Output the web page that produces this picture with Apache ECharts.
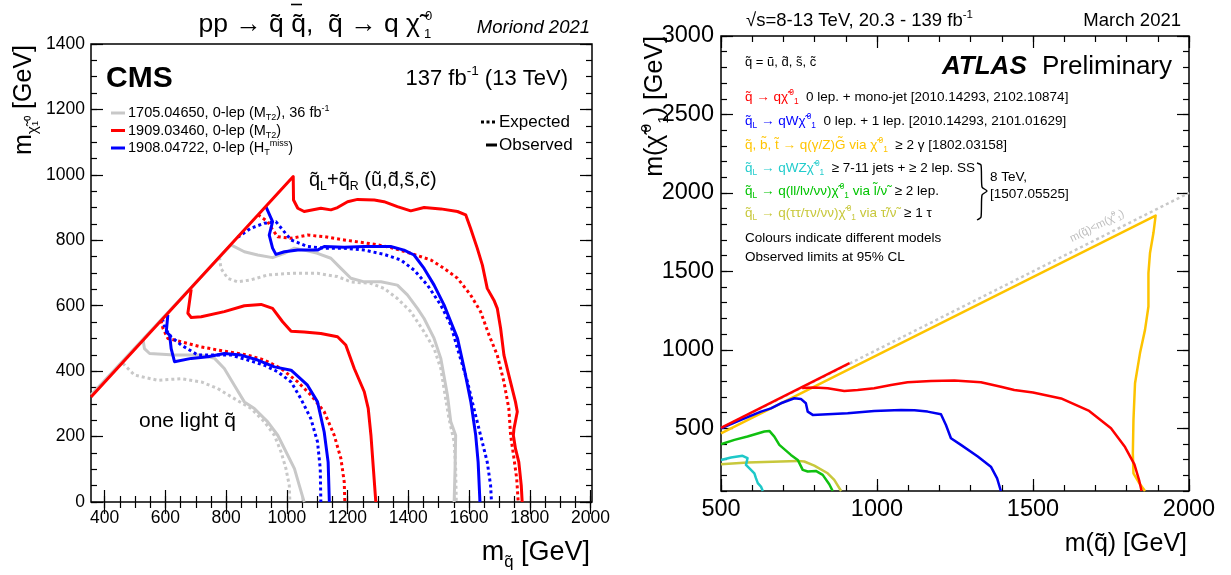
<!DOCTYPE html>
<html><head><meta charset="utf-8">
<script src="https://cdn.jsdelivr.net/npm/echarts@6.0.0/dist/echarts.min.js"></script>
<style>html,body{margin:0;padding:0;background:#fff}#c{width:1231px;height:575px}</style>
</head><body><div id="c"></div>
<script>
const FONT = '"Liberation Sans", Arial, Helvetica, sans-serif';

// ---------- tick labels ----------
const cmsXTicks = [400, 600, 800, 1000, 1200, 1400, 1600, 1800, 2000];
const cmsYTicks = [0, 200, 400, 600, 800, 1000, 1200, 1400];
const atlasXTicks = [500, 1000, 1500, 2000];
const atlasYTicks = [500, 1000, 1500, 2000, 2500, 3000];

// ---------- CMS curves [m_squark, m_LSP] ----------
const cmsRedObsOuter = [[355,321],[1021,995],[1022,923],[1036,898],[1057,888],[1112,898],[1145,893],[1167,900],[1200,918],[1233,925],[1288,923],[1320,918],[1364,903],[1408,890],[1452,900],[1507,896],[1562,888],[1589,878],[1605,837],[1627,776],[1644,724],[1660,653],[1682,617],[1693,592],[1704,531],[1715,449],[1731,388],[1753,306],[1759,276],[1748,224],[1746,204],[1753,163],[1764,122],[1772,51],[1775,0]];
const cmsRedObsInner = [[685,650],[674,577],[685,564],[718,566],[794,582],[860,600],[915,604],[953,592],[986,551],[1014,522],[1057,520],[1112,515],[1167,505],[1194,480],[1222,408],[1255,337],[1268,286],[1277,204],[1285,102],[1293,0]];
const cmsRedExpOuter = [[905,878],[937,857],[953,832],[970,811],[1014,806],[1068,816],[1123,811],[1189,801],[1288,788],[1342,778],[1408,760],[1474,740],[1518,714],[1562,684],[1605,633],[1638,582],[1666,510],[1693,449],[1715,367],[1731,286],[1737,204],[1748,133],[1757,72],[1762,0]];
const cmsRedExpInner = [[585,555],[592,531],[608,500],[652,490],[718,474],[794,461],[871,449],[926,434],[981,408],[1036,367],[1079,327],[1123,276],[1156,204],[1178,133],[1189,61],[1191,0]];
const cmsBlueObsOuter = [[931,903],[953,857],[942,816],[953,776],[964,757],[992,765],[1036,770],[1101,770],[1123,781],[1189,779],[1255,781],[1342,781],[1386,770],[1419,755],[1452,714],[1485,663],[1518,602],[1540,551],[1562,500],[1584,408],[1606,306],[1622,204],[1630,122],[1636,0]];
const cmsBlueObsInner = [[608,572],[603,520],[614,510],[619,469],[630,429],[685,439],[740,444],[794,454],[849,449],[904,434],[959,413],[1014,403],[1068,357],[1101,306],[1123,214],[1136,122],[1140,0]];
const cmsBlueExpOuter = [[838,809],[882,837],[926,852],[964,857],[986,832],[1014,801],[1068,781],[1123,776],[1189,776],[1255,770],[1320,757],[1375,740],[1419,709],[1463,663],[1507,602],[1540,541],[1562,469],[1595,367],[1616,286],[1638,204],[1660,122],[1671,51],[1674,0]];
const cmsBlueExpInner = [[590,560],[599,531],[619,505],[652,480],[707,449],[762,449],[816,449],[871,434],[926,418],[970,398],[1014,367],[1046,316],[1079,255],[1101,184],[1110,102],[1112,0]];
const cmsGrayObsOuter = [[355,327],[816,786],[860,765],[904,755],[953,747],[992,760],[1025,776],[1057,770],[1101,760],[1145,745],[1178,714],[1211,684],[1255,673],[1310,673],[1364,663],[1397,633],[1430,592],[1452,561],[1485,500],[1507,439],[1529,326],[1540,245],[1556,204],[1554,102],[1551,0]];
const cmsGrayObsInner = [[526,498],[531,469],[548,454],[630,449],[718,449],[762,439],[794,408],[827,357],[860,306],[893,286],[937,245],[970,204],[1003,143],[1025,102],[1041,51],[1057,0]];
const cmsGrayExpOuter = [[778,748],[783,714],[805,684],[838,673],[882,679],[937,694],[1014,699],[1101,699],[1167,689],[1211,673],[1277,668],[1320,653],[1364,622],[1408,582],[1452,520],[1485,469],[1507,408],[1523,316],[1534,255],[1551,184],[1556,102],[1558,0]];
const cmsGrayExpInner = [[460,424],[498,388],[575,372],[652,377],[718,367],[772,347],[827,316],[882,286],[926,245],[959,204],[981,153],[997,102],[1008,51],[1010,0]];

// ---------- ATLAS curves [m_squark, m_LSP] ----------
const atlasDiag = [[500,500],[2000,2000]];
const atlasYellow = [[500,468],[1893,1855],[1886,1744],[1875,1617],[1870,1489],[1870,1276],[1859,1127],[1843,979],[1827,787],[1822,553],[1820,340],[1822,213],[1841,149],[1859,100]];
const atlasRedDiag = [[500,503],[912,915]];
const atlasRed = [[760,757],[799,759],[842,755],[895,738],[938,744],[991,755],[1045,776],[1098,793],[1173,801],[1248,804],[1333,793],[1397,765],[1440,744],[1500,728],[1590,690],[1680,610],[1750,500],[1795,380],[1825,270],[1840,170],[1848,100]];
const atlasBlue = [[500,500],[564,553],[628,606],[660,627],[692,659],[735,691],[756,687],[772,659],[778,606],[794,585],[842,589],[906,596],[991,610],[1077,617],[1120,615],[1162,606],[1205,589],[1221,521],[1237,436],[1269,394],[1323,320],[1365,255],[1385,180],[1397,100]];
const atlasGreen = [[500,398],[543,426],[585,447],[639,479],[655,483],[671,447],[687,394],[724,330],[746,298],[762,235],[778,224],[804,228],[826,203],[847,143],[858,100]];
const atlasCyan = [[500,298],[532,313],[569,324],[585,309],[580,266],[596,235],[607,213],[612,182],[618,150],[628,128],[634,100]];
const atlasOlive = [[500,271],[585,281],[692,288],[746,292],[767,288],[799,262],[842,213],[863,171],[885,100]];

// ---------- helpers ----------
function steps(a, b, s) { const r = []; for (let v = a; v <= b; v += s) r.push(v); return r; }
const tickStyle = {color:'#000', width:1.2};
function axisSet(grid, dim, min, max, majorVals, minorVals, labelFont, labelMargin) {
  const pA = dim === 'x' ? 'bottom' : 'left', pB = dim === 'x' ? 'top' : 'right';
  const base = {type:'value', gridIndex:grid, min, max, axisLine:{show:false}, splitLine:{show:false}};
  const lab = {show:true, customValues:majorVals, fontSize:labelFont, fontFamily:FONT, color:'#000', margin:labelMargin, formatter:(v) => String(v)};
  return [
    Object.assign({}, base, {position:pA, axisTick:{show:true, inside:true, length:12, customValues:majorVals, lineStyle:tickStyle}, axisLabel:lab}),
    Object.assign({}, base, {position:pA, axisTick:{show:true, inside:true, length:6, customValues:minorVals, lineStyle:tickStyle}, axisLabel:{show:false}}),
    Object.assign({}, base, {position:pB, axisTick:{show:true, inside:true, length:12, customValues:majorVals, lineStyle:tickStyle}, axisLabel:{show:false}}),
    Object.assign({}, base, {position:pB, axisTick:{show:true, inside:true, length:6, customValues:minorVals, lineStyle:tickStyle}, axisLabel:{show:false}})
  ];
}
function S(data, color, width, dotted, g) {
  const i = g === 0 ? 0 : 4;
  return {type:'line', data, xAxisIndex:i, yAxisIndex:i, symbol:'none', showSymbol:false, silent:true,
    lineStyle:{color, width, type: dotted ? [3,3] : 'solid', cap:'butt', join:'round'}};
}
const COLS = {k:'#000000', r:'#ff0000', b:'#0000ff', y:'#ffc400', c:'#22cccc', g:'#00c400', o:'#c8c83c', gr:'#bdbdbd'};
function richDict(f) {
  const d = {};
  for (const k in COLS) {
    const c = COLS[k];
    d[k] = {fill:c, font:`${f}px ${FONT}`, lineHeight:f*1.3};
    d[k+'p'] = {fill:c, font:`${(f*0.62).toFixed(1)}px ${FONT}`, lineHeight:f*0.62, verticalAlign:'top'};
    d[k+'b'] = {fill:c, font:`${(f*0.62).toFixed(1)}px ${FONT}`, lineHeight:f*0.62, verticalAlign:'bottom'};
  }
  return d;
}
function T(x, y, text, f, o) {
  o = o || {};
  const al = o.align || 'left';
  return {type:'text', x, y, rotation:o.rot || 0, silent:true, z:100,
    style:{text, font:`${o.st||'normal'} ${o.w||'normal'} ${f}px ${FONT}`, fill:o.fill || '#000',
      textAlign:al, align:al, textVerticalAlign:'middle', verticalAlign:'middle', lineHeight:f*1.3, rich:richDict(f)}};
}
function L(x1, y1, x2, y2, color, w, dash) {
  return {type:'line', silent:true, z:100, shape:{x1,y1,x2,y2}, style:{stroke:color, lineWidth:w, lineDash:dash || null}};
}

const xAxes = axisSet(0, 'x', 355, 2005, cmsXTicks, steps(400, 2000, 50), 17.5, 7)
  .concat(axisSet(1, 'x', 500, 2000, atlasXTicks, steps(500, 2000, 100), 23.5, 7));
const yAxes = axisSet(0, 'y', 0, 1400, cmsYTicks, steps(0, 1400, 50), 17.5, 6)
  .concat(axisSet(1, 'y', 100, 3000, atlasYTicks, steps(100, 3000, 100), 23.5, 7));

const GRAY = '#c8c8c8', RED = '#ff0000', BLUE = '#0000ff';
const series = [
  S(cmsGrayExpInner, GRAY, 3, true, 0), S(cmsGrayExpOuter, GRAY, 3, true, 0),
  S(cmsGrayObsInner, GRAY, 3, false, 0), S(cmsGrayObsOuter, GRAY, 3, false, 0),
  S(cmsRedExpInner, RED, 3, true, 0), S(cmsRedExpOuter, RED, 3, true, 0),
  S(cmsBlueExpInner, BLUE, 3, true, 0), S(cmsBlueExpOuter, BLUE, 3, true, 0),
  S(cmsBlueObsInner, BLUE, 3, false, 0), S(cmsBlueObsOuter, BLUE, 3, false, 0),
  S(cmsRedObsInner, RED, 3, false, 0), S(cmsRedObsOuter, RED, 3, false, 0),
  S(atlasDiag, '#c8c8c8', 2.5, true, 1),
  S(atlasOlive, '#c8c83c', 2.5, false, 1), S(atlasCyan, '#1ec8c8', 2.5, false, 1),
  S(atlasGreen, '#10c010', 2.5, false, 1),
  S(atlasYellow, '#fdc300', 2.5, false, 1),
  S(atlasBlue, '#0000f0', 2.5, false, 1),
  S(atlasRedDiag, RED, 2.5, false, 1), S(atlasRed, RED, 2.5, false, 1)
];

const HS = '\u200a';
const g = [
  // CMS texts
  T(420, 25, 'pp → q\u0303 q\u0303,  q\u0303 → q χ\u0303', 26.5, {align:'right'}),
  L(291, 4.5, 302, 4.5, '#000', 1.6),
  T(425, 16, '0', 13), T(424, 34, '1', 13),
  T(590, 28, 'Moriond 2021', 18.5, {align:'right', st:'italic'}),
  T(106, 79, 'CMS', 30, {w:'bold'}),
  T(568, 79, '137 fb{kp|-1} (13 TeV)', 22, {align:'right'}),
  L(111, 113, 125, 113, GRAY, 3), T(128, 113, '1705.04650, 0-lep (M{kb|T2}), 36 fb{kp|-1}', 14.5),
  L(111, 130.5, 125, 130.5, RED, 3), T(128, 130.5, '1909.03460, 0-lep (M{kb|T2})', 14.5),
  L(111, 148, 125, 148, BLUE, 3), T(128, 148, '1908.04722, 0-lep (H{kb|T}{kp|miss})', 14.5),
  L(481, 122, 497, 122, '#000', 3, [3,2.5]), T(499, 122, 'Expected', 17),
  L(486, 145, 497, 145, '#000', 3), T(499, 145, 'Observed', 17),
  T(309, 180, 'q\u0303{kb|L}+q\u0303{kb|R} (ũ,d\u0303,s\u0303,c\u0303)', 20),
  T(139, 421, 'one light q\u0303', 21),
  T(590, 553, 'm{kb|q\u0303} [GeV]', 27, {align:'right'}),
  T(24, 45, 'm{kb|χ\u0303₁⁰} [GeV]', 25, {align:'right', rot:Math.PI/2}),
  // ATLAS texts
  T(746, 21, '√s=8-13 TeV, 20.3 - 139 fb{kp|-1}', 18.5),
  T(1181, 21, 'March 2021', 18.5, {align:'right'}),
  T(745, 62, 'q\u0303 = ũ, d\u0303, s\u0303, c\u0303', 13),
  T(942, 67, 'ATLAS', 26, {w:'bold', st:'italic'}),
  T(1042, 67, 'Preliminary', 26),
  T(745, 97, '{r|q\u0303 → qχ\u0303' + HS + '}{rp|0}{rb|1}  0 lep. + mono-jet [2010.14293, 2102.10874]', 13.5),
  T(745, 121, '{b|q\u0303}{bb|L}{b| → qWχ\u0303' + HS + '}{bp|0}{bb|1}  0 lep. + 1 lep. [2010.14293, 2101.01629]', 13.5),
  T(745, 145, '{y|q\u0303, b\u0303, t\u0303 → q(γ/Z)G\u0303 via χ\u0303' + HS + '}{yp|0}{yb|1}  ≥ 2 γ [1802.03158]', 13.5),
  T(745, 168, '{c|q\u0303}{cb|L}{c| → qWZχ\u0303' + HS + '}{cp|0}{cb|1}  ≥ 7-11 jets + ≥ 2 lep. SS', 13.5),
  T(745, 191, '{g|q\u0303}{gb|L}{g| → q(ll/lν/νν)χ\u0303' + HS + '}{gp|0}{gb|1}{g| via l\u0303/ν\u0303}  ≥ 2 lep.', 13.5),
  T(745, 213, '{o|q\u0303}{ob|L}{o| → q(ττ/τν/νν)χ\u0303' + HS + '}{op|0}{ob|1}{o| via τ\u0303/ν\u0303}  ≥ 1 τ', 13.5),
  {type:'polyline', silent:true, z:100, shape:{points:[[977,163],[981,165],[982,187],[987,191],[982,195],[981,217],[977,220]], smooth:0.2}, style:{stroke:'#000', lineWidth:1.4, fill:null}},
  T(990, 177, '8 TeV,', 13.5),
  T(990, 194, '[1507.05525]', 13.5),
  T(745, 238, 'Colours indicate different models', 13.5),
  T(745, 257, 'Observed limits at 95% CL', 13.5),
  T(1097, 226, 'm(q\u0303)<m(χ\u0303{grp|0}{grb|1})', 11, {align:'center', rot:0.4654, fill:'#bdbdbd'}),
  T(1187, 544, 'm(q\u0303) [GeV]', 25, {align:'right'}),
  T(655, 36, 'm(χ\u0303' + HS + '{kp|0}{kb|1}) [GeV]', 25, {align:'right', rot:Math.PI/2})
];

const chart = echarts.init(document.getElementById('c'), null, {renderer:'canvas', width:1231, height:575});
chart.setOption({
  animation:false,
  backgroundColor:'#ffffff',
  grid:[
    {left:91, top:44, width:501, height:458, show:true, borderColor:'#000', borderWidth:1.5, backgroundColor:'transparent'},
    {left:721, top:36, width:468, height:455, show:true, borderColor:'#000', borderWidth:1.5, backgroundColor:'transparent'}
  ],
  xAxis:xAxes, yAxis:yAxes, series, graphic:{elements:g}
});
</script></body></html>
